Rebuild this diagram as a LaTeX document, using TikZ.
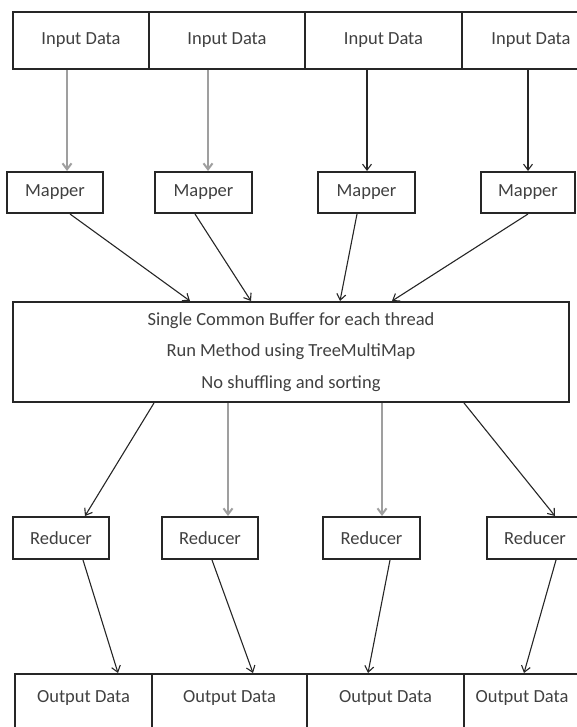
\documentclass[tikz,border=0pt]{standalone}
\usepackage{fontspec}
\setmainfont{Carlito}
\usetikzlibrary{arrows.meta}

\begin{document}
\begin{tikzpicture}
[x=1pt,y=-1pt,
daten/.style={draw=black!85,line width=2pt,inner sep=0pt,minimum height=57pt,text=black!75,font=\fontsize{18.5}{22}\selectfont},
ausgabe/.style={daten,anchor=north,text height=28pt,text depth=44pt},
mapper/.style={daten,minimum height=41pt},
reducer/.style={daten,minimum height=42pt},
puffer/.style={daten,align=center,font=\fontsize{18.5}{31.5}\selectfont},
pfeil/.style={-{Straight Barb[length=6pt,width=9pt]},black!85,line width=1.1pt},
pfeilg/.style={pfeil,gray!75,line width=2pt},
]
\useasboundingbox (0,0) rectangle (577,727);
\clip (0,0) rectangle (577,727);

\node[daten,minimum width=136pt] (I1) at (81,40.5){Input Data};
\node[daten,minimum width=156pt] (I2) at (227,40.5){Input Data};
\node[daten,minimum width=157pt] (I3) at (383.5,40.5){Input Data};
\node[daten,minimum width=138pt] (I4) at (531,40.5){Input Data};

\node[mapper,minimum width=96pt] (M1) at (55,192.5){Mapper};
\node[mapper,minimum width=97pt] (M2) at (203.5,192.5){Mapper};
\node[mapper,minimum width=97pt] (M3) at (366.5,192.5){Mapper};
\node[mapper,minimum width=94pt] (M4) at (528,192.5){Mapper};

\node[puffer,minimum width=556pt,minimum height=100pt] (P) at (291,352)
{Single Common Buffer for each thread\\Run Method using TreeMultiMap\\No shuffling and sorting};

\node[reducer,minimum width=96pt] (R1) at (61,538){Reducer};
\node[reducer,minimum width=96pt] (R2) at (210,538){Reducer};
\node[reducer,minimum width=97pt] (R3) at (371.5,538){Reducer};
\node[reducer,minimum width=96pt] (R4) at (535,538){Reducer};

\node[ausgabe,minimum width=137pt] (O1) at (83.5,673){Output Data};
\node[ausgabe,minimum width=155pt] (O2) at (229.5,673){Output Data};
\node[ausgabe,minimum width=157pt] (O3) at (385.5,673){Output Data};
\node[ausgabe,minimum width=116pt] (O4) at (522,673){Output Data};

\draw[pfeilg] ([xshift=-14pt]I1.south) -- ([xshift=12pt]M1.north);
\draw[pfeilg] ([xshift=-19pt]I2.south) -- ([xshift=4.5pt]M2.north);
\draw[pfeil] ([xshift=-16.5pt]I3.south) -- ([xshift=0.5pt]M3.north);
\draw[pfeil] ([xshift=-3pt]I4.south) -- (M4.north);

\draw[pfeil] ([xshift=15pt]M1.south) -- ([xshift=-101pt]P.north);
\draw[pfeil] ([xshift=-8.5pt]M2.south) -- ([xshift=-40pt]P.north);
\draw[pfeil] ([xshift=-9.5pt]M3.south) -- ([xshift=49pt]P.north);
\draw[pfeil] (M4.south) -- ([xshift=101pt]P.north);

\draw[pfeil] ([xshift=-137pt]P.south) -- ([xshift=24pt]R1.north);
\draw[pfeilg] ([xshift=-63pt]P.south) -- ([xshift=18pt]R2.north);
\draw[pfeilg] ([xshift=91pt]P.south) -- ([xshift=10.5pt]R3.north);
\draw[pfeil] ([xshift=173pt]P.south) -- ([xshift=20pt]R4.north);

\draw[pfeil] ([xshift=22pt]R1.south) -- ([xshift=34.5pt]O1.north);
\draw[pfeil] ([xshift=2pt]R2.south) -- ([xshift=23.5pt]O2.north);
\draw[pfeil] ([xshift=18.5pt]R3.south) -- ([xshift=-17.5pt]O3.north);
\draw[pfeil] ([xshift=21pt]R4.south) -- ([xshift=2pt]O4.north);
\end{tikzpicture}
\end{document}
